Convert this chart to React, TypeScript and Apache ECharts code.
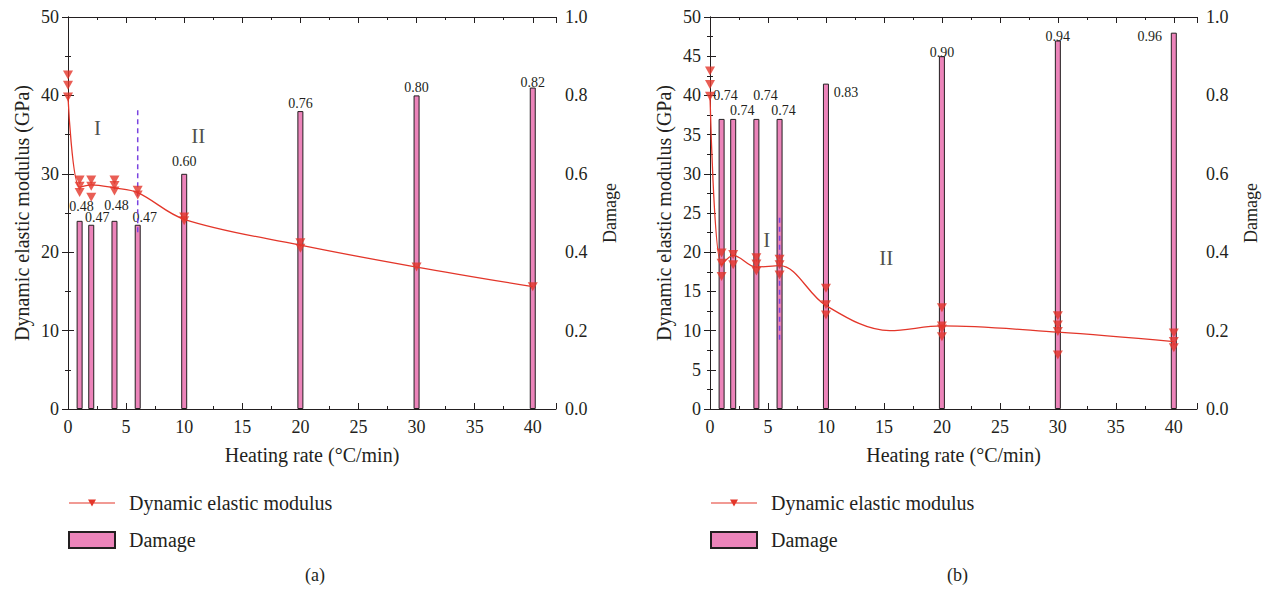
import React, { useEffect, useRef } from "react";
import * as echarts from "echarts";

const FONT = "Liberation Serif";
const INK = "#231f20";
const RED = "#e3362a";
const PINK = "#ec84ba";
const PURPLE = "#7a44e0";

// ---------- Panel (a) ----------
const ratesA = [1, 2, 4, 6, 10, 20, 30, 40];
const damageA = [0.48, 0.47, 0.48, 0.47, 0.6, 0.76, 0.8, 0.82];
const measuredA: [number, number][] = [
  [0, 42.6], [0, 41.3], [0, 39.8],
  [1, 29.2], [1, 28.4], [1, 27.6],
  [2, 29.2], [2, 28.4], [2, 27.0],
  [4, 29.2], [4, 28.5], [4, 27.8],
  [6, 27.9], [6, 27.3],
  [10, 24.5], [10, 24.0],
  [20, 21.2], [20, 20.5],
  [30, 18.1],
  [40, 15.6],
];
const curveA: [number, number][] = [
  [0, 39.8], [1, 28.3], [2, 28.6], [4, 28.2], [6, 27.6], [10, 24.2], [20, 20.9], [30, 18.1], [40, 15.6],
];
const boundaryA: [number, number][] = [[6, 38.1], [6, 22.5]];
const stagesA = [
  { name: "I", value: [2.54, 35.9] },
  { name: "II", value: [11.2, 34.8] },
];

// ---------- Panel (b) ----------
const ratesB = [1, 2, 4, 6, 10, 20, 30, 40];
const damageB = [0.74, 0.74, 0.74, 0.74, 0.83, 0.9, 0.94, 0.96];
const measuredB: [number, number][] = [
  [0, 43.1], [0, 41.4], [0, 39.9],
  [1, 19.9], [1, 18.6], [1, 16.9],
  [2, 19.7], [2, 18.4],
  [4, 19.3], [4, 18.5], [4, 17.6],
  [6, 19.1], [6, 18.4], [6, 17.1],
  [10, 15.4], [10, 13.3], [10, 12.0],
  [20, 12.9], [20, 10.6], [20, 10.2], [20, 9.2],
  [30, 11.9], [30, 10.7], [30, 9.9], [30, 6.9],
  [40, 9.7], [40, 8.6], [40, 7.8],
];
const curveB: [number, number][] = [
  [0, 39.9], [1, 18.4], [2, 19.6], [4, 18.1], [6, 18.3], [10, 13.2], [15.5, 10.0], [20, 10.6], [30, 9.8], [40, 8.6],
];
const boundaryB: [number, number][] = [[6, 24.4], [6, 8.8]];
const stagesB = [
  { name: "I", value: [4.9, 21.6] },
  { name: "II", value: [15.2, 19.3] },
];

// label offsets (styling only)
const labelOffsetA = [[2, -6], [6, 1], [2, -7], [7, 1], [0, -4], [0, 0], [0, 0], [0, 3]];
const labelOffsetB = [[4, -15], [9, 0], [9, -15], [4, 0], [20, 17], [0, 4], [0, 4], [-24, 12]];

const LINE_ICON =
  "path://M0 0 h0.01 v0.01 Z M46 16 h-0.01 v-0.01 Z M0 7.4 H46 V8.6 H0 Z M19 4.5 H27 L23 11.5 Z";

function xAxes(gridIndex: number) {
  const common = {
    gridIndex,
    type: "value",
    min: 0,
    max: 42,
    interval: 5,
    axisLine: { show: true, onZero: false, lineStyle: { color: INK, width: 1 } },
    axisTick: { show: true, inside: true, length: 6, lineStyle: { color: INK } },
    minorTick: { show: true, splitNumber: 2, length: 3, lineStyle: { color: INK } },
    splitLine: { show: false },
    minorSplitLine: { show: false },
  };
  return [
    {
      ...common,
      position: "bottom",
      name: "Heating rate (°C/min)",
      nameLocation: "middle",
      nameGap: 36,
      nameTextStyle: { fontFamily: FONT, fontSize: 20, color: INK },
      axisLabel: {
        show: true,
        margin: 9,
        showMaxLabel: false,
        fontFamily: FONT,
        fontSize: 18,
        color: INK,
        formatter: (v: number) => (v % 5 === 0 ? String(v) : ""),
      },
    },
    { ...common, position: "top", axisLabel: { show: false } },
  ];
}

function yAxes(gridIndex: number, leftInterval: number, leftMinor: number, rightMinor: number) {
  const tick = { show: true, inside: true, length: 6, lineStyle: { color: INK } };
  return [
    {
      gridIndex,
      type: "value",
      position: "left",
      min: 0,
      max: 50,
      interval: leftInterval,
      name: "Dynamic elastic modulus (GPa)",
      nameLocation: "middle",
      nameGap: 36,
      nameTextStyle: { fontFamily: FONT, fontSize: 20, color: INK },
      axisLine: { show: true, lineStyle: { color: INK } },
      axisTick: tick,
      minorTick: { show: true, splitNumber: leftMinor, length: 3, lineStyle: { color: INK } },
      splitLine: { show: false },
      axisLabel: { margin: 9, fontFamily: FONT, fontSize: 18, color: INK },
    },
    {
      gridIndex,
      type: "value",
      position: "right",
      min: 0,
      max: 1,
      interval: 0.2,
      name: "Damage",
      nameLocation: "middle",
      nameGap: 45,
      nameTextStyle: { fontFamily: FONT, fontSize: 18, color: INK },
      axisLine: { show: true, lineStyle: { color: INK } },
      axisTick: tick,
      minorTick: { show: true, splitNumber: rightMinor, length: 3, lineStyle: { color: INK } },
      splitLine: { show: false },
      axisLabel: {
        margin: 9,
        fontFamily: FONT,
        fontSize: 18,
        color: INK,
        formatter: (v: number) => v.toFixed(1),
      },
    },
  ];
}

function panelSeries(
  g: number,
  rates: number[],
  damage: number[],
  offsets: number[][],
  measured: [number, number][],
  curve: [number, number][],
  boundary: [number, number][],
  stages: { name: string; value: number[] }[]
) {
  const xb = g * 2;
  const yl = g * 2;
  const yr = g * 2 + 1;
  return [
    {
      name: "Damage",
      type: "bar",
      xAxisIndex: xb,
      yAxisIndex: yr,
      barWidth: 6,
      z: 1,
      itemStyle: { color: PINK, borderColor: INK, borderWidth: 1 },
      label: {
        show: true,
        position: "top",
        distance: 1,
        fontFamily: FONT,
        fontSize: 14,
        color: INK,
        formatter: (p: any) => Number(p.value[1]).toFixed(2),
      },
      data: rates.map((r, i) => ({
        value: [r, damage[i]],
        label: { offset: offsets[i] },
      })),
    },
    {
      name: "Dynamic elastic modulus",
      type: "line",
      xAxisIndex: xb,
      yAxisIndex: yl,
      smooth: 0.35,
      showSymbol: false,
      symbol: "none",
      z: 3,
      lineStyle: { color: RED, width: 1.3 },
      itemStyle: { color: RED },
      data: curve,
    },
    {
      name: "measured",
      type: "scatter",
      xAxisIndex: xb,
      yAxisIndex: yl,
      symbol: "triangle",
      symbolRotate: 180,
      symbolSize: [10, 9],
      z: 4,
      itemStyle: { color: RED },
      data: measured,
    },
    {
      name: "boundary",
      type: "line",
      xAxisIndex: xb,
      yAxisIndex: yl,
      symbol: "none",
      z: 2,
      lineStyle: { color: PURPLE, width: 1.5, type: [5, 4] },
      data: boundary,
    },
    {
      name: "stages",
      type: "scatter",
      xAxisIndex: xb,
      yAxisIndex: yl,
      symbolSize: 1,
      z: 5,
      itemStyle: { color: "rgba(0,0,0,0)" },
      label: {
        show: true,
        position: "inside",
        formatter: "{b}",
        fontFamily: FONT,
        fontSize: 21,
        color: INK,
      },
      data: stages,
    },
  ];
}

function legendFor(left: number) {
  return {
    left,
    top: 493,
    orient: "vertical",
    padding: 0,
    itemWidth: 46,
    itemHeight: 16,
    itemGap: 17,
    selectedMode: false,
    textStyle: { fontFamily: FONT, fontSize: 20, color: INK, padding: [0, 0, 0, 9] },
    data: [
      { name: "Dynamic elastic modulus", icon: LINE_ICON, itemStyle: { color: RED, borderWidth: 0 } },
      { name: "Damage", icon: "rect" },
    ],
  };
}

export default function App() {
  const ref = useRef<HTMLDivElement>(null);
  useEffect(() => {
    if (!ref.current) return;
    const chart = echarts.init(ref.current, undefined, { renderer: "svg" });
    chart.setOption({
      animation: false,
      backgroundColor: "#ffffff",
      textStyle: { fontFamily: FONT },
      grid: [
        { left: 68, top: 17, width: 488, height: 392 },
        { left: 710, top: 17, width: 487, height: 392 },
      ],
      xAxis: [...xAxes(0), ...xAxes(1)],
      yAxis: [...yAxes(0, 10, 2, 2), ...yAxes(1, 5, 2, 4)],
      legend: [legendFor(68), legendFor(710)],
      series: [
        ...panelSeries(0, ratesA, damageA, labelOffsetA, measuredA, curveA, boundaryA, stagesA),
        ...panelSeries(1, ratesB, damageB, labelOffsetB, measuredB, curveB, boundaryB, stagesB),
      ],
      graphic: [
        { type: "text", left: 305, top: 566, style: { text: "(a)", fontFamily: FONT, fontSize: 18, fill: INK } },
        { type: "text", left: 947, top: 566, style: { text: "(b)", fontFamily: FONT, fontSize: 18, fill: INK } },
      ],
    });
    return () => chart.dispose();
  }, []);
  return (
    <div
      ref={ref}
      style={{ position: "fixed", left: 0, top: 0, width: 1270, height: 589, background: "#fff" }}
    />
  );
}
